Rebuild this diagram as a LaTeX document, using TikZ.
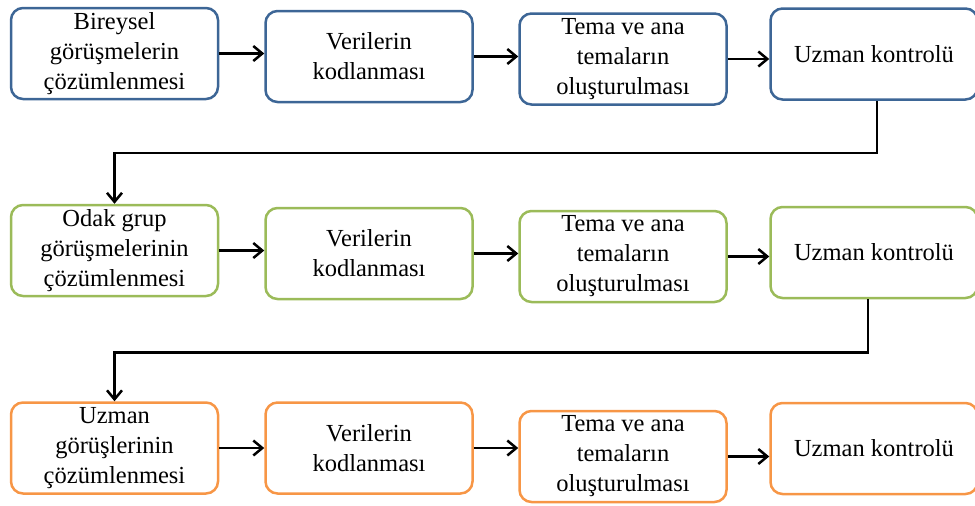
\documentclass[tikz,border=0pt]{standalone}
\usepackage{fontspec}
\setmainfont{Liberation Serif}
\usepackage{xcolor}
\usetikzlibrary{arrows.meta, positioning, calc}
\definecolor{kutumavi}{HTML}{3D6696}
\definecolor{kutuyesil}{HTML}{9BBB59}
\definecolor{kututuruncu}{HTML}{F79646}

\begin{document}
\begin{tikzpicture}[x=1pt, y=-1pt,
    kutu/.style={rectangle, rounded corners=12pt, draw, line width=2.5pt, minimum width=207pt,
        minimum height=91pt, inner sep=0pt, align=center,
        font=\fontsize{24.5}{30}\selectfont},
    ok/.style={line width=2.5pt, -{Straight Barb[length=9pt, width=15pt, line width=2.5pt]}}]
    \useasboundingbox (0,0) rectangle (975,506);
    % birinci satir
    \node[kutu, draw=kutumavi] (b1) at (114.5,53.5) {Bireysel\\görüşmelerin\\çözümlenmesi};
    \node[kutu, draw=kutumavi] (v1) at (369,56.5) {Verilerin\\kodlanması};
    \node[kutu, draw=kutumavi] (t1) at (623,59) {Tema ve ana\\temaların\\oluşturulması};
    \node[kutu, draw=kutumavi] (u1) at (874,54) {Uzman kontrolü};
    % ikinci satir
    \node[kutu, draw=kutuyesil] (o2) at (114.5,250.5) {Odak grup\\görüşmelerinin\\çözümlenmesi};
    \node[kutu, draw=kutuyesil] (v2) at (369,253.5) {Verilerin\\kodlanması};
    \node[kutu, draw=kutuyesil] (t2) at (623,256.5) {Tema ve ana\\temaların\\oluşturulması};
    \node[kutu, draw=kutuyesil] (u2) at (874,252.5) {Uzman kontrolü};
    % ucuncu satir
    \node[kutu, draw=kututuruncu] (z3) at (114.5,448) {Uzman\\görüşlerinin\\çözümlenmesi};
    \node[kutu, draw=kututuruncu] (v3) at (369,448) {Verilerin\\kodlanması};
    \node[kutu, draw=kututuruncu] (t3) at (623,456.5) {Tema ve ana\\temaların\\oluşturulması};
    \node[kutu, draw=kututuruncu] (u3) at (874,448.5) {Uzman kontrolü};

    \foreach \a/\b in {b1/v1, v1/t1, t1/u1, o2/v2, v2/t2, t2/u2, z3/v3, v3/t3, t3/u3}
        \draw[ok] (\a.east) -- (\a.east -| \b.west);

    \draw[ok] ([xshift=3pt]u1.south) -- ++(0,52) -| (o2.north);
    \draw[ok] ([xshift=-6pt]u2.south) -- ++(0,53) -| (z3.north);
\end{tikzpicture}
\end{document}
